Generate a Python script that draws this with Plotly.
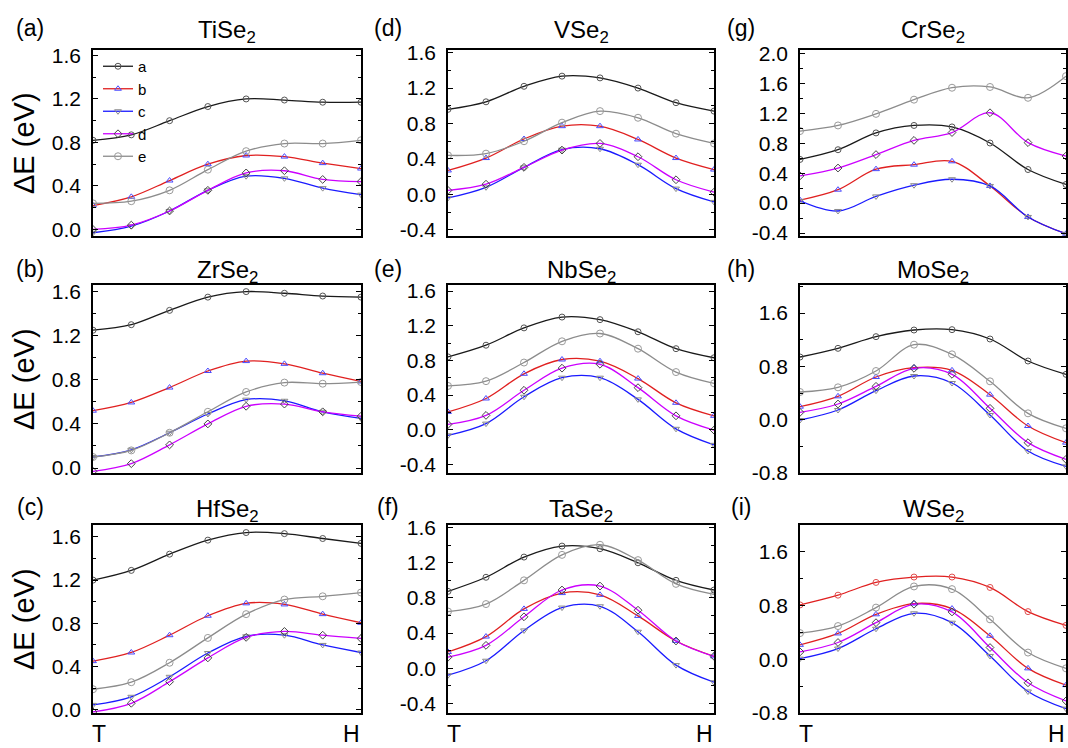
import plotly.graph_objects as go

# ---------------- data ----------------
kpts = [0, 1, 2, 3, 4, 5, 6, 7]
x_end_labels = ["T", "H"]
series_names = ["a", "b", "c", "d", "e"]

# (a) TiSe2
tise2_a = [0.82, 0.87, 1.00, 1.13, 1.20, 1.19, 1.17, 1.17]
tise2_b = [0.22, 0.30, 0.45, 0.60, 0.68, 0.67, 0.61, 0.56]
tise2_c = [-0.03, 0.03, 0.17, 0.36, 0.49, 0.47, 0.38, 0.32]
tise2_d = [0.00, 0.04, 0.17, 0.36, 0.52, 0.54, 0.46, 0.44]
tise2_e = [0.24, 0.26, 0.36, 0.55, 0.72, 0.79, 0.79, 0.82]
# (b) ZrSe2
zrse2_a = [1.25, 1.30, 1.43, 1.55, 1.60, 1.585, 1.56, 1.55]
zrse2_b = [0.52, 0.595, 0.73, 0.88, 0.97, 0.945, 0.86, 0.785]
zrse2_c = [0.10, 0.165, 0.32, 0.49, 0.62, 0.61, 0.51, 0.45]
zrse2_d = [-0.03, 0.04, 0.21, 0.40, 0.56, 0.58, 0.51, 0.47]
zrse2_e = [0.10, 0.16, 0.32, 0.51, 0.69, 0.775, 0.765, 0.78]
# (c) HfSe2
hfse2_a = [1.20, 1.29, 1.44, 1.57, 1.64, 1.63, 1.585, 1.54]
hfse2_b = [0.45, 0.53, 0.69, 0.87, 0.985, 0.975, 0.885, 0.805]
hfse2_c = [0.045, 0.12, 0.305, 0.525, 0.68, 0.69, 0.60, 0.53]
hfse2_d = [-0.02, 0.06, 0.26, 0.48, 0.67, 0.725, 0.69, 0.66]
hfse2_e = [0.19, 0.255, 0.435, 0.665, 0.885, 1.02, 1.05, 1.085]
# (d) VSe2
vse2_a = [0.96, 1.045, 1.22, 1.335, 1.315, 1.20, 1.035, 0.94]
vse2_b = [0.27, 0.41, 0.625, 0.77, 0.77, 0.62, 0.41, 0.28]
vse2_c = [-0.04, 0.08, 0.305, 0.505, 0.515, 0.335, 0.065, -0.085]
vse2_d = [0.045, 0.115, 0.305, 0.50, 0.575, 0.425, 0.165, 0.025]
vse2_e = [0.44, 0.46, 0.60, 0.81, 0.94, 0.865, 0.685, 0.575]
# (e) NbSe2
nbse2_a = [0.84, 0.975, 1.175, 1.30, 1.27, 1.13, 0.935, 0.83]
nbse2_b = [0.205, 0.36, 0.645, 0.81, 0.79, 0.59, 0.31, 0.16]
nbse2_c = [-0.065, 0.07, 0.38, 0.60, 0.60, 0.35, 0.01, -0.175]
nbse2_d = [0.06, 0.165, 0.455, 0.71, 0.755, 0.485, 0.16, -0.005]
nbse2_e = [0.505, 0.56, 0.775, 1.02, 1.11, 0.935, 0.665, 0.535]
# (f) TaSe2
tase2_a = [0.875, 1.035, 1.265, 1.39, 1.36, 1.20, 1.00, 0.89]
tase2_b = [0.185, 0.36, 0.675, 0.855, 0.835, 0.595, 0.31, 0.135]
tase2_c = [-0.08, 0.085, 0.43, 0.69, 0.705, 0.415, 0.035, -0.16]
tase2_d = [0.125, 0.26, 0.585, 0.89, 0.935, 0.66, 0.31, 0.135]
tase2_e = [0.645, 0.73, 1.00, 1.29, 1.405, 1.23, 0.96, 0.84]
# (g) CrSe2
crse2_a = [0.585, 0.715, 0.94, 1.04, 1.02, 0.805, 0.45, 0.25]
crse2_b = [0.04, 0.18, 0.455, 0.515, 0.56, 0.23, -0.185, -0.41]
crse2_c = [0.03, -0.105, 0.09, 0.24, 0.32, 0.23, -0.185, -0.41]
crse2_d = [0.365, 0.47, 0.65, 0.84, 0.945, 1.21, 0.81, 0.63]
crse2_e = [0.965, 1.04, 1.195, 1.385, 1.545, 1.555, 1.41, 1.70]
# (h) MoSe2
mose2_a = [0.94, 1.07, 1.245, 1.345, 1.35, 1.21, 0.88, 0.68]
mose2_b = [0.195, 0.35, 0.64, 0.78, 0.74, 0.375, -0.095, -0.345]
mose2_c = [-0.005, 0.145, 0.435, 0.655, 0.55, 0.07, -0.47, -0.70]
mose2_d = [0.11, 0.235, 0.50, 0.77, 0.68, 0.17, -0.345, -0.595]
mose2_e = [0.415, 0.485, 0.73, 1.125, 0.98, 0.575, 0.095, -0.13]
# (i) WSe2
wse2_a = [0.81, 0.955, 1.145, 1.225, 1.225, 1.07, 0.71, 0.505]
wse2_b = [0.215, 0.385, 0.67, 0.83, 0.755, 0.35, -0.135, -0.385]
wse2_c = [0.01, 0.16, 0.455, 0.685, 0.545, 0.05, -0.48, -0.735]
wse2_d = [0.11, 0.25, 0.545, 0.82, 0.705, 0.175, -0.35, -0.62]
wse2_e = [0.39, 0.495, 0.77, 1.085, 1.045, 0.595, 0.10, -0.135]

panel_labels = ["(a)", "(b)", "(c)", "(d)", "(e)", "(f)", "(g)", "(h)", "(i)"]
panel_titles = ["TiSe<sub>2</sub>", "ZrSe<sub>2</sub>", "HfSe<sub>2</sub>",
                "VSe<sub>2</sub>", "NbSe<sub>2</sub>", "TaSe<sub>2</sub>",
                "CrSe<sub>2</sub>", "MoSe<sub>2</sub>", "WSe<sub>2</sub>"]
panel_data = [
    [tise2_a, tise2_b, tise2_c, tise2_d, tise2_e],
    [zrse2_a, zrse2_b, zrse2_c, zrse2_d, zrse2_e],
    [hfse2_a, hfse2_b, hfse2_c, hfse2_d, hfse2_e],
    [vse2_a, vse2_b, vse2_c, vse2_d, vse2_e],
    [nbse2_a, nbse2_b, nbse2_c, nbse2_d, nbse2_e],
    [tase2_a, tase2_b, tase2_c, tase2_d, tase2_e],
    [crse2_a, crse2_b, crse2_c, crse2_d, crse2_e],
    [mose2_a, mose2_b, mose2_c, mose2_d, mose2_e],
    [wse2_a, wse2_b, wse2_c, wse2_d, wse2_e],
]
ticks_a = [0.0, 0.4, 0.8, 1.2, 1.6]
ticks_d = [-0.4, 0.0, 0.4, 0.8, 1.2, 1.6]
ticks_g = [-0.4, 0.0, 0.4, 0.8, 1.2, 1.6, 2.0]
ticks_h = [-0.8, 0.0, 0.8, 1.6]
panel_yticks = [ticks_a, ticks_a, ticks_a, ticks_d, ticks_d, ticks_d, ticks_g, ticks_h, ticks_h]
panel_minor = [0.2, 0.2, 0.2, 0.2, 0.2, 0.2, 0.2, 0.4, 0.4]
panel_yrange = [[-0.06, 1.65], [-0.045, 1.66], [-0.03, 1.71],
                [-0.47, 1.63], [-0.50, 1.67], [-0.51, 1.63],
                [-0.44, 2.05], [-0.80, 2.02], [-0.80, 2.00]]

# ---------------- style ----------------
W, H = 1068, 748
FONT = "Liberation Sans, Arial, sans-serif"
line_colors = ["#1a1a1a", "#e02020", "#1a1aff", "#cc00ff", "#8c8c8c"]
marker_colors = ["#555555", "#4a4aff", "#8a8a8a", "#444444", "#9a9a9a"]
marker_symbols = ["circle-open", "triangle-up-open", "triangle-down-open", "diamond-open", "circle-open"]
marker_sizes = [6, 6, 6, 6, 7]

col_px = [(93, 361), (448, 714), (800, 1066)]
row_px = [(50, 236), (285, 473), (525, 713)]

fig = go.Figure()
layout = {}
annotations = []
for p in range(9):
    col, row = p // 3, p % 3
    ax = "" if p == 0 else str(p + 1)
    x0, x1 = col_px[col]
    y0, y1 = row_px[row]
    for s in range(5):
        lc = line_colors[s]
        mc = marker_colors[s]
        if p == 8 and s == 0:
            lc = "#e02020"
            mc = "#e05050"
        fig.add_trace(go.Scatter(
            x=kpts, y=panel_data[p][s], name=series_names[s],
            mode="lines+markers", line=dict(color=lc, width=1.3, shape="spline", smoothing=1.0),
            marker=dict(symbol=marker_symbols[s], size=marker_sizes[s], color=mc,
                        line=dict(width=1, color=mc)),
            showlegend=(p == 0), legendgroup=series_names[s],
            xaxis="x" + ax, yaxis="y" + ax))
    layout["xaxis" + ax] = dict(
        domain=[x0 / W, x1 / W], anchor="y" + ax, range=[kpts[0], kpts[-1]],
        showline=True, linecolor="black", linewidth=1.6, mirror=True,
        ticks="", showgrid=False, zeroline=False, showticklabels=False,
        automargin=False)
    yt = panel_yticks[p]
    layout["yaxis" + ax] = dict(
        domain=[1 - y1 / H, 1 - y0 / H], anchor="x" + ax, range=panel_yrange[p],
        showline=True, linecolor="black", linewidth=1.6, mirror="ticks",
        ticks="inside", ticklen=5, tickwidth=1, tickcolor="black",
        showgrid=False, zeroline=False, automargin=False,
        tickmode="array", tickvals=yt, ticktext=["%.1f" % v for v in yt],
        minor=dict(dtick=panel_minor[p], tick0=0, ticks="inside", ticklen=3,
                   tickwidth=1, tickcolor="black", showgrid=False),
        tickfont=dict(family=FONT, size=21, color="black"), ticklabelstandoff=6)
    if row == 2:
        # end-point labels of the k-path (T ... H)
        annotations.append(dict(text=x_end_labels[0], x=kpts[0], xref="x" + ax,
                                y=1 - 734 / H, yref="paper", showarrow=False,
                                xanchor="left", yanchor="middle", xshift=-3,
                                font=dict(family=FONT, size=23, color="black")))
        annotations.append(dict(text=x_end_labels[1], x=kpts[-1], xref="x" + ax,
                                y=1 - 734 / H, yref="paper", showarrow=False,
                                xanchor="right", yanchor="middle", xshift=1,
                                font=dict(family=FONT, size=23, color="black")))

title_y = [32, 271, 511]
label_y = [28, 269, 507]
label_x = [30, 388, 741]
for p in range(9):
    col, row = p // 3, p % 3
    x0, x1 = col_px[col]
    annotations.append(dict(text=panel_titles[p], x=(x0 + x1) / 2 / W, y=1 - title_y[row] / H,
                            xref="paper", yref="paper", showarrow=False, xanchor="center", yanchor="middle",
                            font=dict(family=FONT, size=24, color="black")))
    annotations.append(dict(text=panel_labels[p], x=label_x[col] / W, y=1 - label_y[row] / H,
                            xref="paper", yref="paper", showarrow=False, xanchor="center", yanchor="middle",
                            font=dict(family=FONT, size=23, color="black")))
for row in range(3):
    y0, y1 = row_px[row]
    annotations.append(dict(text="ΔE (eV)", x=24 / W, y=1 - (y0 + y1) / 2 / H,
                            xref="paper", yref="paper", showarrow=False, textangle=-90,
                            xanchor="center", yanchor="middle",
                            font=dict(family=FONT, size=29, color="black")))

fig.update_layout(**layout)
fig.update_layout(
    width=W, height=H, margin=dict(l=0, r=0, t=0, b=0),
    paper_bgcolor="white", plot_bgcolor="white",
    annotations=annotations,
    legend=dict(x=98 / W, y=1 - 50 / H, xanchor="left", yanchor="top",
                bgcolor="rgba(0,0,0,0)", font=dict(family=FONT, size=15, color="black"),
                tracegroupgap=0, itemwidth=30),
)
fig.write_html("out.html", config={"displayModeBar": False},
               post_script="document.body.style.margin='0';document.body.style.overflow='hidden';")
